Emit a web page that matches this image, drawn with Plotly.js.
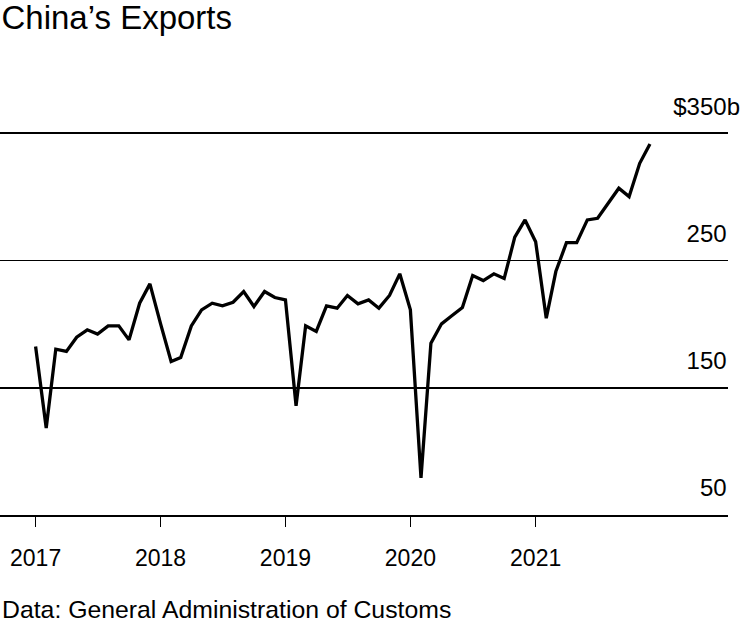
<!DOCTYPE html>
<html>
<head>
<meta charset="utf-8">
<script src="https://cdn.plot.ly/plotly-3.0.1.min.js"></script>
<style>html,body{margin:0;padding:0;background:#fff;}#chart{width:750px;height:628px;}</style>
</head>
<body>
<div id="chart"></div>
<script>
var months = [
  "2017-01-01","2017-02-01","2017-03-01","2017-04-01","2017-05-01","2017-06-01","2017-07-01","2017-08-01","2017-09-01","2017-10-01","2017-11-01","2017-12-01",
  "2018-01-01","2018-02-01","2018-03-01","2018-04-01","2018-05-01","2018-06-01","2018-07-01","2018-08-01","2018-09-01","2018-10-01","2018-11-01","2018-12-01",
  "2019-01-01","2019-02-01","2019-03-01","2019-04-01","2019-05-01","2019-06-01","2019-07-01","2019-08-01","2019-09-01","2019-10-01","2019-11-01","2019-12-01",
  "2020-01-01","2020-02-01","2020-03-01","2020-04-01","2020-05-01","2020-06-01","2020-07-01","2020-08-01","2020-09-01","2020-10-01","2020-11-01","2020-12-01",
  "2021-01-01","2021-02-01","2021-03-01","2021-04-01","2021-05-01","2021-06-01","2021-07-01","2021-08-01","2021-09-01","2021-10-01","2021-11-01","2021-12-01"
];
var exportsBn = [
  182.4, 118.3, 180.3, 178.5, 189.7, 195.5, 192.1, 198.6, 198.6, 187.6, 216.4, 231.6,
  200.4, 170.6, 173.8, 198.6, 211.2, 216.4, 214.3, 217.2, 225.6, 213.8, 225.6, 220.9,
  219.0, 135.8, 198.6, 194.2, 214.3, 212.5, 222.5, 215.9, 219.0, 212.5, 222.5, 239.5,
  211.2, 79.0, 185.0, 200.2, 206.5, 213.0, 238.2, 234.2, 239.5, 235.8, 268.3, 281.9,
  264.8, 204.6, 241.3, 264.0, 264.0, 281.9, 283.2, 294.5, 306.8, 300.2, 326.4, 341.6
];
var yearTicks = ["2017-01-01","2018-01-01","2019-01-01","2020-01-01","2021-01-01"];
var yearLabels = ["2017","2018","2019","2020","2021"];
var yTickVals = [50, 150, 250, 350];
var yTickText = ["50\u00a0\u00a0", "150\u00a0\u00a0", "250\u00a0\u00a0", "$350b"];

var FONT = "Liberation Sans, Arial, sans-serif";

var data = [{
  x: months,
  y: exportsBn,
  type: "scatter",
  mode: "lines",
  line: {color: "#000000", width: 3.3},
  hoverinfo: "skip"
}];

var layout = {
  width: 750,
  height: 628,
  paper_bgcolor: "#ffffff",
  plot_bgcolor: "#ffffff",
  margin: {l: 0, r: 22, t: 80, b: 113},
  showlegend: false,
  font: {family: FONT, color: "#000000"},
  title: {
    text: "China\u2019s Exports",
    font: {family: FONT, size: 33, color: "#000000"},
    x: 0.002, xref: "container", xanchor: "left",
    y: 0.99, yref: "container", yanchor: "top"
  },
  xaxis: {
    type: "date",
    range: ["2016-09-19", "2022-07-17"],
    tickvals: yearTicks,
    ticktext: yearLabels,
    ticks: "outside",
    ticklen: 10,
    tickwidth: 1.6,
    tickcolor: "#000000",
    showline: true,
    linecolor: "#000000",
    linewidth: 1.6,
    showgrid: false,
    zeroline: false,
    tickfont: {family: FONT, size: 23, color: "#000000"},
    ticklabelstandoff: 12,
    fixedrange: true
  },
  yaxis: {
    range: [49.9, 391.9],
    side: "right",
    tickvals: yTickVals,
    ticktext: yTickText,
    ticks: "",
    ticklabelposition: "inside top",
    ticklabelstandoff: -15,
    ticklabelshift: -10,
    showgrid: true,
    gridcolor: "#000000",
    gridwidth: 1.7,
    showline: false,
    zeroline: false,
    tickfont: {family: FONT, size: 24, color: "#000000"},
    fixedrange: true
  },
  annotations: [{
    text: "Data: General Administration of Customs",
    xref: "paper", yref: "paper",
    x: 0, y: -0.218,
    xanchor: "left", yanchor: "middle",
    showarrow: false,
    font: {family: FONT, size: 24.8, color: "#000000"}
  }]
};

Plotly.newPlot("chart", data, layout, {displayModeBar: false, staticPlot: true});
</script>
</body>
</html>
